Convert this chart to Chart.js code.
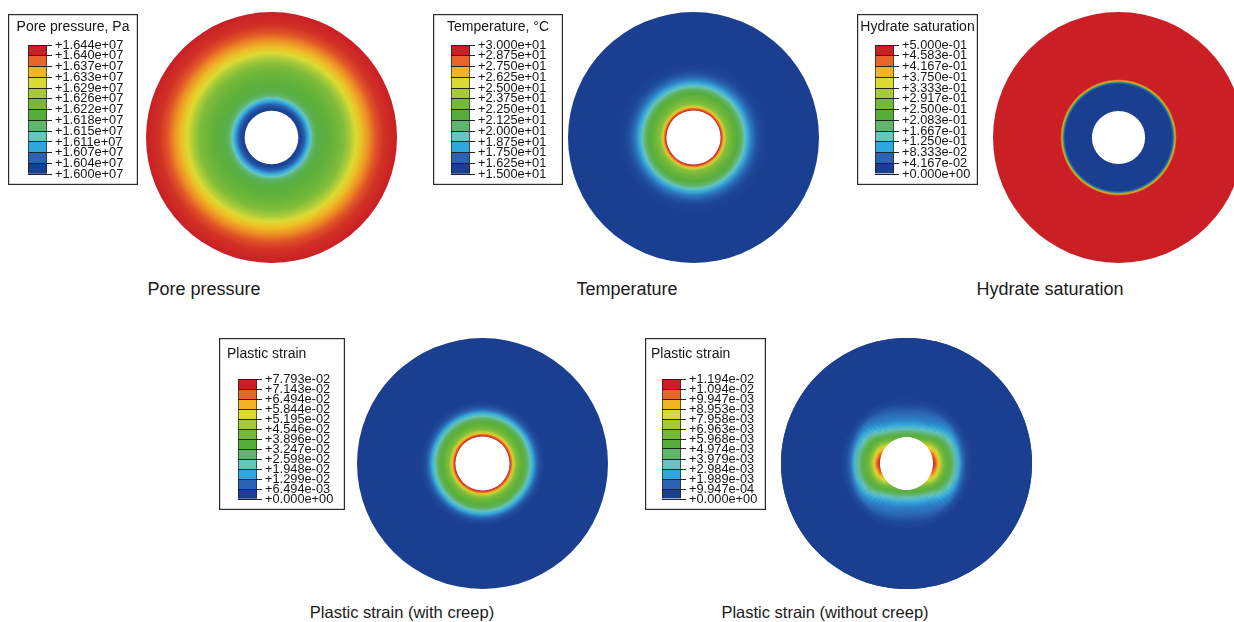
<!DOCTYPE html>
<html>
<head>
<meta charset="utf-8">
<title>Wellbore contour fields</title>
<script src="https://cdn.jsdelivr.net/npm/chart.js@4.4.1/dist/chart.umd.min.js"></script>
<style>
  html, body { margin:0; padding:0; background:#fff; width:1234px; height:622px; overflow:hidden; position:relative; }
  canvas { position:absolute; display:block; }
  .cap { position:absolute; font-family:"Liberation Sans", Arial, Helvetica, sans-serif; color:#1a1a1a;
         white-space:nowrap; transform:translate(-50%,-50%); line-height:1; }
</style>
</head>
<body>
<script>
// ================= DATA =================
// 12-band contour spectrum, low -> high
const bandColors = ['#1b3f90', '#2b63b2', '#2fa6de', '#68c4c2', '#5fb56b', '#56ad3a',
                    '#74b93a', '#a6ca3a', '#dcdb33', '#f2b422', '#e86629', '#c91f25'];

// legend tick labels (top -> bottom)
const poreTicks = ['+1.644e+07','+1.640e+07','+1.637e+07','+1.633e+07','+1.629e+07','+1.626e+07',
                   '+1.622e+07','+1.618e+07','+1.615e+07','+1.611e+07','+1.607e+07','+1.604e+07','+1.600e+07'];
const tempTicks = ['+3.000e+01','+2.875e+01','+2.750e+01','+2.625e+01','+2.500e+01','+2.375e+01',
                   '+2.250e+01','+2.125e+01','+2.000e+01','+1.875e+01','+1.750e+01','+1.625e+01','+1.500e+01'];
const hydrateTicks = ['+5.000e-01','+4.583e-01','+4.167e-01','+3.750e-01','+3.333e-01','+2.917e-01',
                      '+2.500e-01','+2.083e-01','+1.667e-01','+1.250e-01','+8.333e-02','+4.167e-02','+0.000e+00'];
const creepTicks = ['+7.793e-02','+7.143e-02','+6.494e-02','+5.844e-02','+5.195e-02','+4.546e-02',
                    '+3.896e-02','+3.247e-02','+2.598e-02','+1.948e-02','+1.299e-02','+6.494e-03','+0.000e+00'];
const noCreepTicks = ['+1.194e-02','+1.094e-02','+9.947e-03','+8.953e-03','+7.958e-03','+6.963e-03',
                      '+5.968e-03','+4.974e-03','+3.979e-03','+2.984e-03','+1.989e-03','+9.947e-04','+0.000e+00'];

// legend titles and panel captions
const legendTitles = ['Pore pressure, Pa', 'Temperature, \u00B0C', 'Hydrate saturation', 'Plastic strain', 'Plastic strain'];
const captions = ['Pore pressure', 'Temperature', 'Hydrate saturation', 'Plastic strain (with creep)', 'Plastic strain (without creep)'];

// radial profiles: radius as fraction of the outer radius (first entry = borehole wall)
const poreRadius   = [0.214,0.240,0.264,0.288,0.312,0.336,0.368,0.440,0.520,0.576,0.624,0.672,0.720,0.776,0.832,0.896,1.000];
const porePressure = [1.600,1.601,1.604,1.608,1.612,1.616,1.619,1.621,1.623,1.625,1.628,1.632,1.635,1.638,1.641,1.643,1.644]; // x1e7 Pa
const poreUnit = 1e7;

const tempRadius  = [0.216,0.228,0.240,0.252,0.264,0.304,0.352,0.384,0.408,0.432,0.464,0.504,0.544,0.600,1.000];
const temperature = [30.0,28.8,27.0,25.0,23.8,22.8,21.8,20.5,19.2,18.0,16.8,15.8,15.2,15.0,15.0]; // deg C

const hydrateRadius = [0.212,0.424,0.436,0.444,0.452,0.464,1.000];
const hydrateSat    = [0.00,0.00,0.05,0.25,0.42,0.50,0.50];

const creepRadius = [0.216,0.228,0.240,0.252,0.268,0.296,0.328,0.356,0.380,0.404,0.428,0.456,0.496,1.000];
const creepStrain = [7.79,7.20,6.20,5.20,4.50,4.00,3.60,3.00,2.20,1.50,0.80,0.25,0.00,0.00]; // x1e-2
const creepUnit = 1e-2;

// without creep: field varies with angle (measured from the horizontal axis, symmetric in each quadrant)
const noCreepRadius = [0.212,0.228,0.240,0.256,0.272,0.296,0.320,0.352,0.384,0.416,0.448,0.480,0.528,1.000];
const noCreepAngles = [0,5,10,15,20,25,30,35,40,45,50,55,60,65,70,75,80,85,90];
const noCreepStrain = [ // x1e-3, one row per angle
  [11.9,11.3,10.5, 9.2, 7.8, 6.6, 5.9, 5.0, 3.8, 2.6, 1.2, 0.35, 0, 0],
  [11.8,11.2,10.4, 9.1, 7.7, 6.6, 5.9, 5.0, 3.8, 2.6, 1.2, 0.35, 0, 0],
  [11.6,11.0,10.2, 9.0, 7.6, 6.5, 5.8, 4.9, 3.8, 2.6, 1.2, 0.35, 0, 0],
  [11.3,10.7, 9.9, 8.8, 7.5, 6.4, 5.7, 4.8, 3.7, 2.6, 1.25,0.38, 0, 0],
  [11.0,10.4, 9.6, 8.5, 7.3, 6.3, 5.6, 4.7, 3.6, 2.5, 1.3, 0.40, 0, 0],
  [10.4, 9.8, 9.1, 8.1, 7.1, 6.2, 5.5, 4.5, 3.4, 2.4, 1.35,0.42, 0, 0],
  [ 9.8, 9.2, 8.5, 7.6, 6.8, 6.0, 5.3, 4.3, 3.2, 2.3, 1.4, 0.45, 0, 0],
  [ 9.1, 8.6, 7.9, 7.2, 6.5, 5.7, 5.0, 4.0, 2.9, 2.1, 1.4, 0.48, 0, 0],
  [ 8.4, 7.9, 7.3, 6.7, 6.1, 5.4, 4.6, 3.6, 2.6, 1.9, 1.4, 0.50, 0, 0],
  [ 7.8, 7.3, 6.8, 6.2, 5.6, 4.9, 4.0, 3.1, 2.2, 1.7, 1.3, 0.48, 0, 0],
  [ 7.2, 6.8, 6.3, 5.8, 5.2, 4.4, 3.5, 2.6, 1.9, 1.5, 1.2, 0.45, 0, 0],
  [ 6.8, 6.4, 6.0, 5.4, 4.8, 3.9, 3.1, 2.2, 1.7, 1.4, 1.1, 0.42, 0, 0],
  [ 6.4, 6.1, 5.7, 5.1, 4.4, 3.5, 2.7, 1.9, 1.5, 1.3, 1.0, 0.40, 0, 0],
  [ 6.1, 5.8, 5.4, 4.8, 4.1, 3.2, 2.5, 1.8, 1.45,1.25,0.9, 0.35, 0, 0],
  [ 5.9, 5.6, 5.2, 4.6, 3.8, 2.9, 2.3, 1.7, 1.4, 1.2, 0.8, 0.30, 0, 0],
  [ 5.7, 5.4, 5.0, 4.4, 3.6, 2.8, 2.2, 1.65,1.35,1.15,0.7, 0.28, 0, 0],
  [ 5.6, 5.3, 4.9, 4.3, 3.5, 2.7, 2.1, 1.6, 1.3, 1.1, 0.6, 0.25, 0, 0],
  [ 5.5, 5.2, 4.8, 4.2, 3.4, 2.6, 2.0, 1.55,1.3, 1.05,0.55,0.22, 0, 0],
  [ 5.5, 5.2, 4.8, 4.2, 3.4, 2.6, 2.0, 1.5, 1.3, 1.0, 0.5, 0.20, 0, 0]
];
const noCreepUnit = 1e-3;

// ================= LAYOUT / STYLE =================
const FONT = '"Liberation Sans", Arial, Helvetica, sans-serif';
Chart.defaults.font.family = FONT;

const diskBoxes = [
  {left:146, top:12, size:251}, {left:568, top:12, size:251}, {left:993, top:12, size:251},
  {left:357, top:338, size:251}, {left:781, top:338, size:251}
];
const legendBoxes = [
  {left:8,   top:14,  w:130, h:171, align:'center', padLeft:0, barLeft:20, barW:19, barTop:31, barBottom:161, titleTop:4.6},
  {left:433, top:14,  w:130, h:171, align:'center', padLeft:0, barLeft:18, barW:19, barTop:31, barBottom:161, titleTop:4.6},
  {left:857, top:14,  w:121, h:171, align:'center', padLeft:0, barLeft:18, barW:19, barTop:31, barBottom:160, titleTop:4.6},
  {left:219, top:338, w:126, h:172, align:'start',  padLeft:8, barLeft:19, barW:19, barTop:41, barBottom:162, titleTop:7.6},
  {left:645, top:338, w:121, h:172, align:'start',  padLeft:6, barLeft:17, barW:19, barTop:41, barBottom:161, titleTop:7.6}
];
const captionPos = [
  {x:204, y:289, size:18}, {x:627, y:289, size:18}, {x:1050, y:289, size:18},
  {x:402, y:612, size:16.5}, {x:825, y:612, size:16.5}
];

// ================= HELPERS =================
function addCanvas(left, top, w, h) {
  const c = document.createElement('canvas');
  c.width = w; c.height = h;
  c.style.left = left + 'px'; c.style.top = top + 'px';
  c.style.width = w + 'px'; c.style.height = h + 'px';
  document.body.appendChild(c);
  return c;
}
function hexRgb(h) { return [1,3,5].map(i => parseInt(h.substr(i,2),16)); }
const bandRgb = bandColors.map(hexRgb);
function fieldColor(t) {
  t = Math.max(0, Math.min(1, t));
  const p = t * (bandRgb.length - 1);
  const i = Math.min(Math.floor(p), bandRgb.length - 2);
  const f = p - i;
  const a = bandRgb[i], b = bandRgb[i+1];
  return 'rgb(' + a.map((v,k) => Math.round(v + (b[k]-v)*f)).join(',') + ')';
}
function fieldGradient(context, radii, values, lo, hi) {
  const chart = context.chart;
  const area = chart.chartArea;
  if (!area) return bandColors[0];
  const cx = (area.left + area.right) / 2, cy = (area.top + area.bottom) / 2;
  const R = Math.min(area.right - area.left, area.bottom - area.top) / 2;
  const g = chart.ctx.createRadialGradient(cx, cy, 0, cx, cy, R);
  for (let i = 0; i < radii.length; i++) {
    g.addColorStop(Math.min(1, radii[i]), fieldColor((values[i] - lo) / (hi - lo)));
  }
  return g;
}
function tickRange(ticks) { return [parseFloat(ticks[ticks.length-1]), parseFloat(ticks[0])]; }

function makeDisk(box, radii, profileFor, segCount, ticks, rotation) {
  const canvas = addCanvas(box.left, box.top, box.size, box.size);
  const [lo, hi] = tickRange(ticks);
  const fill = ctx => fieldGradient(ctx, radii, profileFor(ctx.dataIndex), lo, hi);
  new Chart(canvas, {
    type: 'doughnut',
    data: {
      labels: Array.from({length: segCount}, (_, i) => 'sector ' + (i + 1)),
      datasets: [{
        data: Array.from({length: segCount}, () => 1),
        backgroundColor: fill,
        borderColor: 'rgba(0,0,0,0)',
        borderWidth: 0,
        hoverOffset: 0, offset: 0
      }]
    },
    options: {
      responsive: false, animation: false, events: [],
      cutout: (radii[0] * 100) + '%',
      rotation: rotation || 0,
      plugins: { legend: {display: false}, tooltip: {enabled: false}, title: {display: false} }
    }
  });
}

const boxPlugin = {
  id: 'frame',
  afterDraw(chart) {
    const c = chart.ctx;
    c.save();
    c.strokeStyle = '#2a2a2a'; c.lineWidth = 1.2;
    c.strokeRect(0.6, 0.6, chart.width - 1.2, chart.height - 1.2);
    c.restore();
  }
};

function makeLegend(g, title, ticks) {
  const canvas = addCanvas(g.left, g.top, g.w, g.h);
  const n = ticks.length - 1;
  const titleSize = 14, lineH = titleSize * 1.2;
  const datasets = [];
  for (let i = 0; i < n; i++) {
    datasets.push({
      label: ticks[n - i], data: [1], yAxisID: 'y', backgroundColor: bandColors[i],
      borderColor: '#222', borderWidth: {left: 1, right: 1, top: 0, bottom: 0}, borderSkipped: false,
      barPercentage: 1, categoryPercentage: 1
    });
  }
  new Chart(canvas, {
    type: 'bar',
    data: { labels: [''], datasets },
    options: {
      responsive: false, animation: false, events: [],
      layout: { padding: { left: g.padLeft, right: 0, top: 0, bottom: g.h - g.barBottom } },
      plugins: {
        legend: {display: false}, tooltip: {enabled: false},
        title: { display: true, text: title, align: g.align, color: '#151515',
                 font: {family: FONT, size: titleSize, weight: 'normal'},
                 padding: {top: g.titleTop, bottom: g.barTop - g.titleTop - lineH} }
      },
      scales: {
        x: { display: false, stacked: true },
        y: {
          type: 'linear', position: 'right', stacked: true, min: 0, max: n,
          afterFit(s) { s.width = g.w - g.barLeft - g.barW; },
          ticks: { stepSize: 1, autoSkip: false, padding: 3, color: '#151515',
                   font: {family: FONT, size: 12.8},
                   callback: v => ticks[n - Math.round(v)] },
          grid: { drawOnChartArea: true, drawTicks: true, tickLength: 5, color: '#222', lineWidth: 1, z: 1 },
          border: { display: false }
        },
        pad: {
          type: 'linear', position: 'left', display: true, min: 0, max: 1,
          afterFit(s) { s.width = g.barLeft - g.padLeft; },
          ticks: {display: false}, grid: {display: false}, border: {display: false}
        }
      }
    },
    plugins: [boxPlugin]
  });
}

// ================= BUILD =================
const noCreepSegs = 4 * (noCreepAngles.length - 1);
const segDeg = 360 / noCreepSegs;
// profile row for sector i of a doughnut rotated by rot degrees (angle folded into 0..90 from horizontal)
function segProfile(i, rot) {
  let a = -90 + rot + (i + 0.5) * segDeg;
  a = ((a % 180) + 180) % 180;
  if (a > 90) a = 180 - a;
  return Math.min(noCreepAngles.length - 1, Math.round(a / (90 / (noCreepAngles.length - 1))));
}
const noCreepProfile = row => noCreepStrain[row].map(v => v * noCreepUnit);

makeDisk(diskBoxes[0], poreRadius, () => porePressure.map(v => v * poreUnit), 1, poreTicks);
makeDisk(diskBoxes[1], tempRadius, () => temperature, 1, tempTicks);
makeDisk(diskBoxes[2], hydrateRadius, () => hydrateSat, 1, hydrateTicks);
makeDisk(diskBoxes[3], creepRadius, () => creepStrain.map(v => v * creepUnit), 1, creepTicks);
// two sector layers offset by half a sector, so the anti-aliasing seams of one fall inside the other
makeDisk(diskBoxes[4], noCreepRadius, i => noCreepProfile(segProfile(i, 0)), noCreepSegs, noCreepTicks, 0);
makeDisk(diskBoxes[4], noCreepRadius, i => noCreepProfile(segProfile(i, -segDeg / 2)), noCreepSegs, noCreepTicks, -segDeg / 2);

const allTicks = [poreTicks, tempTicks, hydrateTicks, creepTicks, noCreepTicks];
legendBoxes.forEach((g, k) => makeLegend(g, legendTitles[k], allTicks[k]));

captions.forEach((t, k) => {
  const d = document.createElement('div');
  d.className = 'cap';
  d.textContent = t;
  d.style.left = captionPos[k].x + 'px';
  d.style.top = captionPos[k].y + 'px';
  d.style.fontSize = captionPos[k].size + 'px';
  document.body.appendChild(d);
});
</script>
</body>
</html>
